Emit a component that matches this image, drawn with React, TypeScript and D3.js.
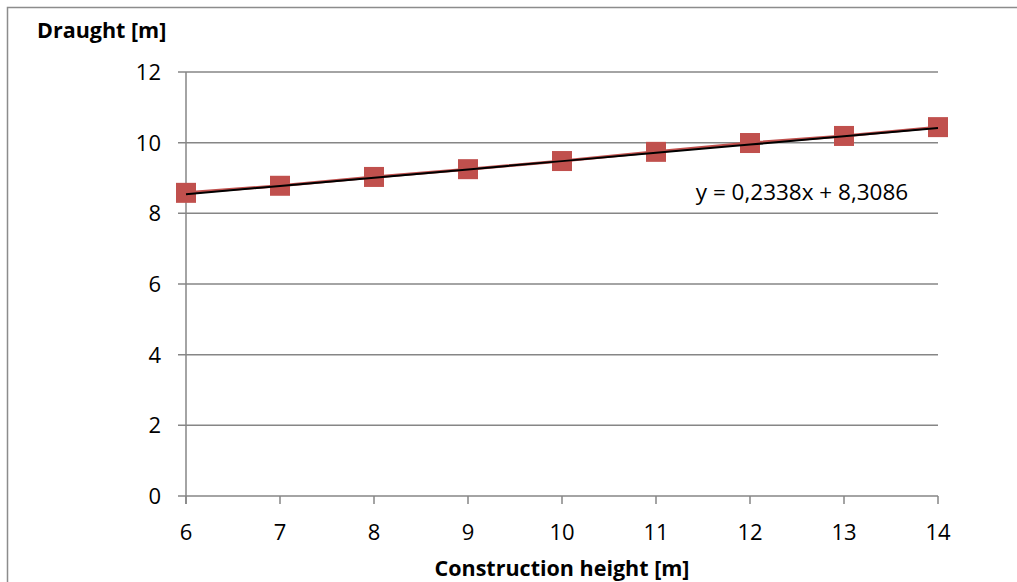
import React from "react";
import * as d3 from "d3";

const heights = [6, 7, 8, 9, 10, 11, 12, 13, 14];
const draughts = [8.58, 8.78, 9.03, 9.25, 9.48, 9.74, 9.99, 10.19, 10.44];
const yTicks = [0, 2, 4, 6, 8, 10, 12];
const slope = 0.2338;
const intercept = 8.3086;
const equationLabel = "y = 0,2338x + 8,3086";

export default function App() {
  const W = 1017, H = 582;
  const x = d3.scaleLinear().domain([6, 14]).range([186, 938]);
  const y = d3.scaleLinear().domain([0, 12]).range([496, 72]);
  const line = d3.line<number>().x((_, i) => x(heights[i])).y((d) => y(d));
  const trend = heights.map((_, i) => slope * (i + 1) + intercept);
  const font = "'Open Sans', Lato, sans-serif";
  const grid = "#868686";
  const fs = 22;
  return (
    <svg width={W} height={H} style={{ position: "absolute", left: 0, top: 0 }} fontFamily={font}>
      <rect x={0} y={0} width={W} height={H} fill="#fff" />
      <rect x={7.5} y={7.5} width={W + 20} height={H + 20} fill="none" stroke="#8c8c8c" strokeWidth={1.5} />
      {yTicks.map((t) => (
        <g key={t}>
          <line x1={178} x2={938} y1={y(t)} y2={y(t)} stroke={grid} strokeWidth={1.5} />
          <text x={161} y={y(t) + 8} fontSize={fs} textAnchor="end" fill="#000">{t}</text>
        </g>
      ))}
      <line x1={186} x2={186} y1={72} y2={504} stroke={grid} strokeWidth={1.5} />
      {heights.map((h) => (
        <g key={h}>
          <line x1={x(h)} x2={x(h)} y1={496} y2={504} stroke={grid} strokeWidth={1.5} />
          <text x={x(h)} y={540} fontSize={fs} textAnchor="middle" fill="#000">{h}</text>
        </g>
      ))}
      <path d={line(draughts) || ""} fill="none" stroke="#C0504D" strokeWidth={3} />
      {heights.map((h, i) => (
        <rect key={h} x={x(h) - 10} y={y(draughts[i]) - 10} width={20} height={20} fill="#C0504D" />
      ))}
      <path d={line(trend) || ""} fill="none" stroke="#000" strokeWidth={2} />
      <text x={802} y={200} fontSize={fs + 0.5} textAnchor="middle" fill="#000">{equationLabel}</text>
      <text x={37} y={38} fontSize={fs - 0.5} fontWeight="bold" fill="#000">Draught [m]</text>
      <text x={562} y={576} fontSize={fs - 0.5} fontWeight="bold" textAnchor="middle" fill="#000">Construction height [m]</text>
    </svg>
  );
}
